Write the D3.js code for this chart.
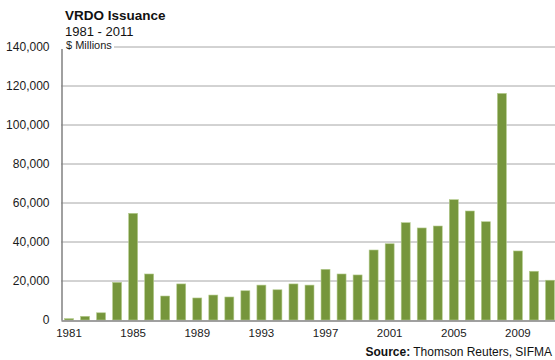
<!DOCTYPE html>
<html>
<head>
<meta charset="utf-8">
<script src="https://cdn.jsdelivr.net/npm/d3@7"></script>
<style>
  html, body { margin: 0; padding: 0; background: #fff; }
  svg { display: block; font-family: "Liberation Sans", Arial, sans-serif; }
</style>
</head>
<body>
<svg id="chart" width="555" height="360"></svg>
<script>
// VRDO issuance by year, $ millions
const years = d3.range(1981, 2012);
const issuance = [
  700, 1900, 3700, 19300, 54700, 23600, 12300, 18500, 11300, 12800,
  11800, 15000, 17900, 15500, 18500, 17900, 26000, 23600, 23100, 35900,
  39100, 49900, 47200, 48200, 61700, 55900, 50400, 116200, 35400, 25000,
  20400
];
const yTicks = [0, 20000, 40000, 60000, 80000, 100000, 120000, 140000];
const xTickYears = [1981, 1985, 1989, 1993, 1997, 2001, 2005, 2009];

const svg = d3.select("#chart");

const x = d3.scaleBand()
  .domain(years)
  .range([61, 558])
  .paddingInner(0.44)
  .paddingOuter(0.22);

const y = d3.scaleLinear()
  .domain([0, 140000])
  .range([320, 47]);

// Horizontal gridlines
svg.append("g")
  .selectAll("line")
  .data(yTicks.filter(d => d > 0))
  .join("line")
  .attr("x1", 61).attr("x2", 560)
  .attr("y1", d => y(d)).attr("y2", d => y(d))
  .attr("stroke", "#a6a6a6")
  .attr("stroke-width", 1);

// Bars
svg.append("g")
  .selectAll("rect")
  .data(years.map((yr, i) => ({ yr, v: issuance[i] })))
  .join("rect")
  .attr("x", d => x(d.yr))
  .attr("width", x.bandwidth())
  .attr("y", d => y(d.v))
  .attr("height", d => y(0) - y(d.v))
  .attr("fill", "#76963c")
  .attr("stroke", "#b5cc8e")
  .attr("stroke-width", 0.6);

// Y axis
const yAxis = svg.append("g")
  .attr("transform", "translate(61.5,0)")
  .call(d3.axisLeft(y).tickValues(yTicks).tickFormat(d3.format(",")).tickSize(0).tickPadding(12));
yAxis.select(".domain").attr("stroke", "#808080").attr("stroke-width", 1.5);
yAxis.selectAll("text")
  .attr("font-size", 12)
  .attr("fill", "#1a1a1a")
  .attr("font-family", "Liberation Sans, Arial, sans-serif");

// X axis
const xAxis = svg.append("g")
  .attr("transform", "translate(0,320.5)")
  .call(d3.axisBottom(x).tickValues(xTickYears).tickSize(0).tickPadding(8));
xAxis.select(".domain").attr("stroke", "#808080").attr("stroke-width", 1.5);
xAxis.selectAll("text")
  .attr("font-size", 11.5)
  .attr("fill", "#1a1a1a")
  .attr("font-family", "Liberation Sans, Arial, sans-serif");

// Units label sitting on the top gridline
svg.append("rect")
  .attr("x", 58).attr("y", 38).attr("width", 56).attr("height", 11)
  .attr("fill", "#fff");
svg.append("text")
  .attr("x", 66).attr("y", 48.5)
  .attr("font-size", 11)
  .attr("fill", "#1a1a1a")
  .text("$ Millions");

// Title
svg.append("text")
  .attr("x", 65).attr("y", 20)
  .attr("font-size", 13.5)
  .attr("font-weight", "bold")
  .attr("fill", "#111")
  .text("VRDO Issuance");
svg.append("text")
  .attr("x", 65).attr("y", 36)
  .attr("font-size", 13)
  .attr("fill", "#111")
  .text("1981 - 2011");

// Source line
const src = svg.append("text")
  .attr("x", 552).attr("y", 356)
  .attr("text-anchor", "end")
  .attr("font-size", 12)
  .attr("fill", "#111");
src.append("tspan").attr("font-weight", "bold").text("Source:");
src.append("tspan").text(" Thomson Reuters, SIFMA");
</script>
</body>
</html>
